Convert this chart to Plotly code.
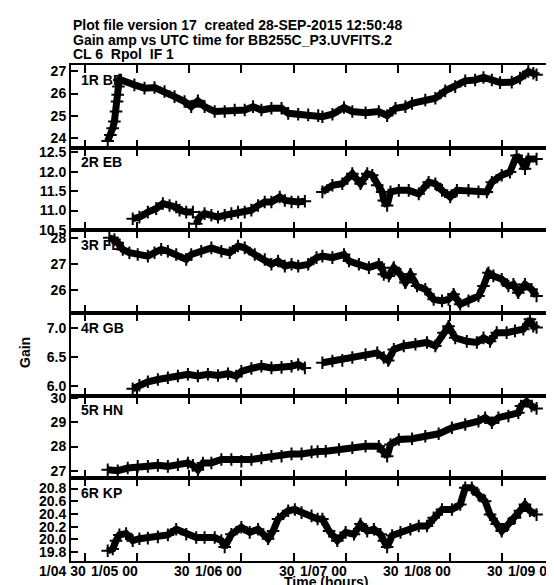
import plotly.graph_objects as go

# ---------------- data (hours, gain) ----------------
t_bb = [4.718, 4.744, 4.766, 4.782, 4.798, 4.808, 4.814, 4.821, 4.830, 4.846, 4.974, 5.071, 5.167,
        5.263, 5.359, 5.455, 5.519, 5.583, 5.647, 5.744, 5.840, 5.936, 6.032, 6.112, 6.192, 6.288,
        6.385, 6.449, 6.545, 6.641, 6.737, 6.777, 6.873, 6.984, 7.064, 7.191, 7.318, 7.398, 7.478,
        7.573, 7.637, 7.764, 7.860, 7.955, 8.051, 8.147, 8.242, 8.322, 8.402, 8.481, 8.593, 8.672,
        8.752, 8.800, 8.831]
g_bb = [23.87, 24.14, 24.44, 24.74, 25.19, 25.64, 25.94, 26.31, 26.61, 26.61, 26.39, 26.24, 26.27,
        26.09, 25.86, 25.64, 25.41, 25.67, 25.41, 25.19, 25.19, 25.26, 25.26, 25.41, 25.26, 25.34,
        25.34, 25.11, 25.07, 25.04, 25.01, 24.96, 25.07, 25.37, 25.19, 25.14, 25.19, 25.01, 25.34,
        25.41, 25.56, 25.71, 25.79, 26.12, 26.31, 26.57, 26.61, 26.72, 26.61, 26.49, 26.51, 26.69,
        26.99, 26.91, 26.84]

t_eb = [4.958, 5.022, 5.103, 5.183, 5.247, 5.311, 5.375, 5.407, 5.471, 5.535, None,
        5.567, 5.599, 5.647, 5.712, 5.776, 5.840, 5.904, 5.968, 6.032, 6.096, 6.160, 6.224, 6.288,
        6.368, 6.417, 6.481, 6.545, 6.609, None,
        6.777, 6.873, 6.968, 7.064, 7.143, 7.207, 7.255, 7.303, 7.350, 7.366, 7.398, 7.430, 7.510,
        7.605, 7.701, 7.796, 7.860, 7.924, 8.003, 8.067, 8.178, 8.274, 8.354, 8.402, 8.497, 8.576,
        8.640, 8.688, 8.720, 8.752, 8.831]
g_eb = [10.79, 10.83, 10.96, 11.05, 11.18, 11.13, 11.09, 11.01, 10.96, 10.96, None,
        10.66, 10.83, 10.92, 10.88, 10.83, 10.88, 10.92, 10.96, 10.96, 11.01, 11.13, 11.22, 11.22,
        11.35, 11.26, 11.22, 11.22, 11.24, None,
        11.48, 11.65, 11.69, 11.95, 11.69, 11.95, 11.91, 11.65, 11.48, 11.26, 11.13, 11.48, 11.52,
        11.52, 11.43, 11.73, 11.69, 11.52, 11.35, 11.52, 11.52, 11.48, 11.48, 11.73, 11.91, 11.99,
        12.42, 12.25, 12.08, 12.33, 12.33]

t_fd = [4.734, 4.782, 4.814, 4.862, 4.926, 5.006, 5.103, 5.167, 5.231, 5.295, 5.375, 5.471, 5.519,
        5.615, 5.712, 5.808, 5.888, 5.968, 6.032, 6.128, 6.224, 6.288, 6.352, 6.417, 6.481, 6.545,
        6.641, 6.721, 6.777, 6.873, 6.984, 7.032, 7.127, 7.223, 7.318, 7.350, 7.366, 7.414, 7.462,
        7.526, 7.573, 7.621, 7.685, 7.764, 7.844, 7.924, 7.987, 8.035, 8.099, 8.178, 8.274, 8.322,
        8.370, 8.417, 8.497, 8.561, 8.609, 8.656, 8.720, 8.783, 8.831]
g_fd = [28.02, 27.95, 27.83, 27.57, 27.44, 27.37, 27.31, 27.44, 27.57, 27.50, 27.37, 27.18, 27.37,
        27.50, 27.63, 27.50, 27.44, 27.70, 27.63, 27.37, 27.18, 26.99, 27.12, 26.92, 26.99, 26.92,
        26.99, 27.25, 27.31, 27.25, 27.37, 27.12, 26.99, 26.86, 26.99, 26.86, 26.60, 26.54, 26.86,
        26.60, 26.28, 26.60, 26.15, 26.02, 25.63, 25.57, 25.63, 25.83, 25.44, 25.57, 25.76, 26.15,
        26.66, 26.54, 26.41, 26.15, 26.21, 25.89, 26.21, 26.02, 25.76]

t_gb = [4.958, 5.022, 5.103, 5.199, 5.295, 5.391, 5.487, 5.583, 5.679, 5.776, 5.872, 5.952, 6.000,
        6.096, 6.192, 6.288, 6.385, 6.481, 6.545, 6.609, None,
        6.777, 6.873, 6.968, 7.064, 7.191, 7.303, 7.366, 7.408, 7.462, 7.557, 7.669, 7.780, 7.860,
        7.939, 7.987, 8.051, 8.162, 8.258, 8.322, 8.385, 8.449, 8.544, 8.624, 8.704, 8.767, 8.799,
        8.831]
g_gb = [5.95, 6.01, 6.07, 6.11, 6.14, 6.17, 6.20, 6.17, 6.20, 6.18, 6.21, 6.17, 6.25,
        6.30, 6.34, 6.31, 6.32, 6.34, 6.37, 6.31, None,
        6.40, 6.43, 6.44, 6.49, 6.54, 6.57, 6.49, 6.44, 6.63, 6.69, 6.72, 6.75, 6.69,
        6.92, 7.03, 6.83, 6.77, 6.75, 6.83, 6.77, 6.92, 6.92, 6.95, 6.98, 7.15, 7.03,
        7.01]

t_hn = [4.718, 4.814, 4.910, 5.006, 5.103, 5.199, 5.295, 5.391, 5.487, 5.535, 5.583, 5.631, 5.712,
        5.808, 5.904, 6.000, 6.096, 6.192, 6.288, 6.385, 6.481, 6.577, 6.673, 6.731, 6.809, 6.936,
        7.064, 7.191, 7.318, 7.357, 7.398, 7.430, 7.510, 7.637, 7.764, 7.892, 8.019, 8.147, 8.274,
        8.338, 8.402, 8.465, 8.561, 8.656, 8.682, 8.736, 8.783, 8.831]
g_hn = [27.05, 27.01, 27.12, 27.19, 27.19, 27.23, 27.19, 27.26, 27.33, 27.23, 27.05, 27.33, 27.33,
        27.47, 27.47, 27.40, 27.47, 27.53, 27.60, 27.60, 27.70, 27.70, 27.78, 27.80, 27.81, 27.88,
        27.95, 28.01, 28.01, 27.81, 27.60, 28.08, 28.29, 28.32, 28.42, 28.52, 28.77, 28.90, 29.04,
        29.18, 28.97, 29.18, 29.25, 29.38, 29.66, 29.84, 29.66, 29.56]

t_kp = [4.718, 4.766, 4.798, 4.830, 4.894, 4.958, 5.022, 5.103, 5.199, 5.295, 5.375, 5.471, 5.567,
        5.647, 5.744, 5.808, 5.840, 5.904, 6.000, 6.080, 6.160, 6.256, 6.304, 6.352, 6.449, 6.513,
        6.577, 6.673, 6.731, 6.777, 6.841, 6.920, 7.000, 7.080, 7.143, 7.207, 7.271, 7.334, 7.366,
        7.398, 7.446, 7.526, 7.621, 7.701, 7.780, 7.844, 7.924, 8.019, 8.099, 8.147, 8.210, 8.274,
        8.338, 8.385, 8.449, 8.497, 8.561, 8.624, 8.672, 8.720, 8.767, 8.831]
g_kp = [19.82, 19.85, 19.98, 20.07, 20.09, 19.98, 20.01, 20.02, 20.04, 20.07, 20.16, 20.08, 20.03,
        20.03, 20.03, 19.98, 19.88, 20.08, 20.19, 20.11, 20.16, 20.01, 20.13, 20.32, 20.45, 20.47,
        20.42, 20.37, 20.32, 20.32, 20.13, 19.98, 20.11, 20.08, 20.24, 20.13, 20.16, 20.08, 19.98,
        19.88, 20.06, 20.11, 20.16, 20.21, 20.21, 20.34, 20.47, 20.47, 20.55, 20.81, 20.81, 20.70,
        20.60, 20.39, 20.24, 20.13, 20.24, 20.34, 20.45, 20.55, 20.45, 20.39]

panel_labels = ["1R BB", "2R EB", "3R FD", "4R GB", "5R HN", "6R KP"]
series_t = [t_bb, t_eb, t_fd, t_gb, t_hn, t_kp]
series_g = [g_bb, g_eb, g_fd, g_gb, g_hn, g_kp]

y_ranges = [[23.57, 27.28], [10.49, 12.62], [25.10, 28.31], [5.83, 7.26], [26.70, 30.08], [19.66, 20.96]]
y_ticks = [[24, 25, 26, 27], [10.5, 11.0, 11.5, 12.0, 12.5], [26, 27, 28],
           [6.0, 6.5, 7.0], [27, 28, 29, 30], [19.8, 20.0, 20.2, 20.4, 20.6, 20.8]]
y_fmt = ["d", ".1f", "d", ".1f", "d", ".1f"]

x_range = [4.366, 9.075]
x_ticks = [4.5, 5.0, 5.5, 6.0, 6.5, 7.0, 7.5, 8.0, 8.5, 9.0]
x_tick_text = ["1/04 30", "1/05 00", "30", "1/06 00", "30", "1/07 00", "30", "1/08 00", "30", "1/09 00"]

title_lines = ["Plot file version 17  created 28-SEP-2015 12:50:48",
               "Gain amp vs UTC time for BB255C_P3.UVFITS.2",
               "CL 6  Rpol  IF 1"]

# ---------------- figure ----------------
FONT = "Liberation Sans, Arial, Helvetica, sans-serif"
W, H = 554, 585
ML, MR, MT, MB = 63, 0, 57, 32
plot_w = W - ML - MR
plot_h = H - MT - MB
fig = go.Figure()
n = len(panel_labels)
panel_h = plot_h / n

for i in range(n):
    k = i + 1
    xa = "x" if k == 1 else f"x{k}"
    ya = "y" if k == 1 else f"y{k}"
    # panel label (drawn first so the data band lies on top of it, as in the original)
    lo, hi = y_ranges[i]
    lab_x = x_range[0] + 10 / plot_w * (x_range[1] - x_range[0])
    lab_y = hi - 16 / panel_h * (hi - lo)
    fig.add_trace(go.Scatter(
        x=[lab_x], y=[lab_y], mode="text", text=[f"<b>{panel_labels[i]}</b>"],
        textposition="middle right", textfont=dict(family=FONT, size=14, color="black"),
        xaxis=xa, yaxis=ya, showlegend=False, hoverinfo="skip", cliponaxis=False))
    fig.add_trace(go.Scatter(
        x=series_t[i], y=series_g[i], mode="lines+markers",
        line=dict(color="black", width=7),
        marker=dict(symbol="cross-thin", size=9, line=dict(color="black", width=2)),
        xaxis=xa, yaxis=ya, showlegend=False, hoverinfo="skip", connectgaps=False))

layout = dict(
    width=W, height=H,
    margin=dict(l=ML, r=MR, t=MT, b=MB),
    paper_bgcolor="white", plot_bgcolor="white",
    font=dict(family=FONT, size=14, color="black"),
    showlegend=False,
)

annotations = []
for i in range(n):
    k = i + 1
    xs = "" if k == 1 else str(k)
    top = 1 - i / n
    bot = 1 - (i + 1) / n
    layout[f"xaxis{xs}"] = dict(
        domain=[0, 1], range=x_range, anchor=f"y{xs}",
        tickvals=x_ticks, showticklabels=False, ticks="inside", ticklen=8,
        tickwidth=1.5, tickcolor="black",
        showline=True, linecolor="black", linewidth=2, mirror="ticks",
        showgrid=False, zeroline=False)
    layout[f"yaxis{xs}"] = dict(
        domain=[bot, top], range=y_ranges[i], anchor=f"x{xs}",
        tickvals=y_ticks[i], tickformat=y_fmt[i], ticks="inside", ticklen=7,
        tickwidth=1.5, tickcolor="black",
        tickfont=dict(family=FONT, size=14, color="black", weight="bold"),
        showline=True, linecolor="black", linewidth=2, mirror=False,
        showgrid=False, zeroline=False)

for v, txt in zip(x_ticks, x_tick_text):
    annotations.append(dict(
        text=f"<b>{txt}</b>", xref="x6", yref="paper", x=v, y=0,
        xanchor="right", yanchor="middle", xshift=3, yshift=-10,
        showarrow=False, font=dict(family=FONT, size=14, color="black")))

for j, line in enumerate(title_lines):
    annotations.append(dict(
        text=f"<b>{line}</b>", xref="paper", yref="paper", x=0, y=1,
        xanchor="left", yanchor="middle", yshift=57 - 17 - 14.5 * j,
        showarrow=False, font=dict(family=FONT, size=14, color="black")))

annotations.append(dict(
    text="<b>Time (hours)</b>", xref="paper", yref="paper",
    x=(318 - ML) / plot_w, y=0, xanchor="center", yanchor="middle", yshift=-21,
    showarrow=False, font=dict(family=FONT, size=14, color="black")))
annotations.append(dict(
    text="<b>Gain</b>", xref="paper", yref="paper",
    x=0, y=(553 - 345) / plot_h, xanchor="center", yanchor="middle", xshift=-46,
    textangle=-90, showarrow=False, font=dict(family=FONT, size=14, color="black")))

layout["annotations"] = annotations
fig.update_layout(**layout)
fig.write_html("out.html")
